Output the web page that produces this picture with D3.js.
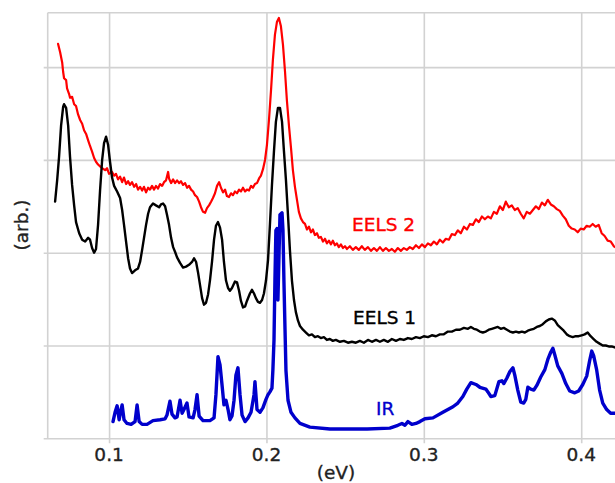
<!DOCTYPE html>
<html>
<head>
<meta charset="utf-8">
<script src="https://cdn.jsdelivr.net/npm/d3@7"></script>
<style>
  html, body { margin: 0; padding: 0; background: #fff; }
  svg { display: block; }
  text { font-family: "DejaVu Sans", Verdana, sans-serif; }
</style>
</head>
<body>
<svg id="chart" width="615" height="483"></svg>
<script>
// ---- Data (energy in eV, intensity in arbitrary units, offset traces) ----
const xTicks = [0.1, 0.2, 0.3, 0.4];
const xTickLabels = ["0.1", "0.2", "0.3", "0.4"];
const yGrid = [0, 1, 2, 3, 4];
const seriesNames = ["EELS 2", "EELS 1", "IR"];

const eels2X = [0.0676,0.0689,0.0702,0.0708,0.0714,0.0727,0.0733,0.0746,0.0752,0.0765,0.0778,0.0790,0.0803,0.0816,0.0829,0.0841,0.0854,0.0867,0.0879,0.0892,0.0905,0.0917,0.0930,0.0943,0.0956,0.0975,0.0987,0.1000,0.1019,0.1032,0.1044,0.1057,0.1070,0.1083,0.1095,0.1108,0.1121,0.1133,0.1146,0.1159,0.1172,0.1184,0.1197,0.1210,0.1222,0.1235,0.1248,0.1260,0.1273,0.1286,0.1298,0.1311,0.1324,0.1337,0.1349,0.1362,0.1375,0.1381,0.1394,0.1407,0.1419,0.1432,0.1445,0.1457,0.1470,0.1483,0.1496,0.1508,0.1521,0.1534,0.1546,0.1559,0.1572,0.1584,0.1597,0.1610,0.1622,0.1635,0.1648,0.1660,0.1673,0.1686,0.1699,0.1711,0.1724,0.1737,0.1749,0.1762,0.1775,0.1787,0.1800,0.1813,0.1826,0.1838,0.1851,0.1864,0.1876,0.1889,0.1902,0.1914,0.1927,0.1940,0.1953,0.1965,0.1978,0.1991,0.2003,0.2016,0.2029,0.2041,0.2054,0.2067,0.2079,0.2092,0.2105,0.2118,0.2130,0.2143,0.2156,0.2168,0.2181,0.2194,0.2206,0.2219,0.2232,0.2245,0.2257,0.2270,0.2283,0.2295,0.2308,0.2321,0.2333,0.2346,0.2359,0.2372,0.2384,0.2397,0.2410,0.2422,0.2435,0.2448,0.2460,0.2473,0.2486,0.2499,0.2511,0.2530,0.2549,0.2568,0.2587,0.2606,0.2625,0.2645,0.2664,0.2683,0.2702,0.2721,0.2740,0.2759,0.2778,0.2797,0.2816,0.2835,0.2854,0.2873,0.2892,0.2911,0.2930,0.2950,0.2969,0.2988,0.3007,0.3026,0.3045,0.3064,0.3083,0.3102,0.3121,0.3140,0.3159,0.3178,0.3197,0.3216,0.3235,0.3255,0.3274,0.3293,0.3312,0.3331,0.3350,0.3369,0.3388,0.3407,0.3426,0.3445,0.3464,0.3483,0.3502,0.3521,0.3540,0.3559,0.3578,0.3597,0.3616,0.3635,0.3654,0.3674,0.3693,0.3712,0.3731,0.3750,0.3769,0.3788,0.3807,0.3826,0.3845,0.3864,0.3883,0.3902,0.3921,0.3940,0.3959,0.3978,0.3997,0.4016,0.4035,0.4054,0.4073,0.4092,0.4111,0.4130,0.4149,0.4168,0.4188,0.4207,0.4226];
const eels2Y = [4.25,4.16,4.05,3.95,3.88,3.86,3.77,3.71,3.67,3.68,3.60,3.58,3.49,3.43,3.39,3.32,3.28,3.21,3.15,3.09,3.02,2.98,2.95,2.93,2.91,2.89,2.91,2.85,2.87,2.83,2.85,2.79,2.82,2.76,2.81,2.74,2.77,2.73,2.76,2.71,2.74,2.68,2.71,2.67,2.71,2.65,2.70,2.68,2.72,2.68,2.72,2.69,2.74,2.72,2.76,2.78,2.87,2.80,2.75,2.79,2.75,2.78,2.75,2.77,2.73,2.75,2.70,2.72,2.68,2.66,2.62,2.60,2.55,2.49,2.44,2.43,2.48,2.51,2.55,2.59,2.64,2.72,2.76,2.70,2.65,2.68,2.61,2.60,2.64,2.62,2.66,2.64,2.68,2.66,2.70,2.66,2.68,2.67,2.72,2.70,2.74,2.75,2.80,2.83,2.90,3.00,3.16,3.43,3.75,4.08,4.35,4.49,4.53,4.44,4.24,3.95,3.64,3.37,3.13,2.89,2.71,2.57,2.44,2.37,2.33,2.31,2.25,2.28,2.22,2.25,2.19,2.21,2.16,2.17,2.12,2.15,2.10,2.13,2.09,2.13,2.08,2.10,2.06,2.09,2.05,2.07,2.04,2.07,2.03,2.06,2.03,2.07,2.03,2.06,2.02,2.05,2.02,2.06,2.02,2.05,2.02,2.04,2.01,2.05,2.02,2.05,2.03,2.06,2.04,2.08,2.05,2.09,2.06,2.10,2.08,2.12,2.09,2.14,2.11,2.15,2.14,2.20,2.19,2.24,2.21,2.28,2.25,2.31,2.30,2.36,2.33,2.39,2.36,2.39,2.37,2.44,2.42,2.50,2.46,2.55,2.49,2.51,2.46,2.48,2.42,2.37,2.44,2.42,2.46,2.50,2.47,2.54,2.51,2.57,2.52,2.50,2.47,2.45,2.40,2.36,2.29,2.26,2.25,2.22,2.26,2.25,2.29,2.28,2.31,2.28,2.30,2.21,2.18,2.13,2.12,2.07,2.05];

const eels1X = [0.0657,0.0670,0.0682,0.0695,0.0708,0.0714,0.0727,0.0740,0.0752,0.0765,0.0778,0.0790,0.0810,0.0829,0.0848,0.0867,0.0879,0.0892,0.0905,0.0917,0.0930,0.0943,0.0956,0.0968,0.0981,0.0994,0.1006,0.1019,0.1032,0.1051,0.1070,0.1083,0.1095,0.1108,0.1121,0.1133,0.1146,0.1165,0.1184,0.1197,0.1210,0.1222,0.1235,0.1248,0.1260,0.1279,0.1298,0.1318,0.1330,0.1343,0.1356,0.1368,0.1381,0.1394,0.1407,0.1419,0.1432,0.1451,0.1470,0.1489,0.1508,0.1527,0.1540,0.1553,0.1565,0.1578,0.1591,0.1603,0.1616,0.1629,0.1641,0.1654,0.1667,0.1679,0.1692,0.1705,0.1718,0.1730,0.1743,0.1756,0.1768,0.1781,0.1800,0.1813,0.1826,0.1838,0.1851,0.1864,0.1876,0.1895,0.1908,0.1921,0.1933,0.1946,0.1959,0.1972,0.1984,0.1997,0.2010,0.2022,0.2035,0.2048,0.2060,0.2073,0.2086,0.2099,0.2111,0.2124,0.2137,0.2149,0.2162,0.2175,0.2187,0.2200,0.2213,0.2232,0.2251,0.2270,0.2289,0.2308,0.2327,0.2346,0.2365,0.2384,0.2403,0.2422,0.2441,0.2467,0.2492,0.2518,0.2543,0.2568,0.2594,0.2619,0.2645,0.2670,0.2696,0.2721,0.2746,0.2772,0.2797,0.2823,0.2848,0.2873,0.2899,0.2924,0.2950,0.2975,0.3000,0.3026,0.3051,0.3077,0.3102,0.3127,0.3153,0.3178,0.3204,0.3229,0.3255,0.3280,0.3299,0.3318,0.3337,0.3356,0.3375,0.3394,0.3413,0.3432,0.3451,0.3470,0.3489,0.3508,0.3528,0.3547,0.3566,0.3585,0.3604,0.3623,0.3642,0.3661,0.3680,0.3699,0.3718,0.3737,0.3756,0.3775,0.3794,0.3813,0.3832,0.3851,0.3870,0.3889,0.3908,0.3927,0.3946,0.3965,0.3984,0.4003,0.4022,0.4041,0.4060,0.4079,0.4098,0.4117,0.4137,0.4156,0.4175,0.4194,0.4213,0.4232];
const eels1Y = [2.55,2.78,3.03,3.37,3.57,3.60,3.56,3.37,3.03,2.73,2.51,2.33,2.21,2.14,2.12,2.16,2.14,2.05,2.00,2.04,2.30,2.68,3.00,3.18,3.25,3.16,2.98,2.81,2.72,2.66,2.59,2.46,2.30,2.12,1.94,1.83,1.78,1.81,1.83,1.90,2.03,2.16,2.30,2.42,2.49,2.53,2.51,2.49,2.52,2.53,2.50,2.41,2.30,2.16,2.06,2.01,1.95,1.89,1.84,1.85,1.87,1.90,1.94,1.90,1.79,1.65,1.51,1.44,1.46,1.55,1.70,1.90,2.14,2.29,2.33,2.27,2.14,1.90,1.70,1.62,1.59,1.62,1.69,1.68,1.59,1.48,1.41,1.42,1.48,1.56,1.60,1.56,1.51,1.47,1.46,1.49,1.56,1.70,1.92,2.30,2.73,3.10,3.41,3.56,3.56,3.41,3.10,2.78,2.40,2.03,1.70,1.49,1.36,1.27,1.21,1.17,1.14,1.11,1.12,1.09,1.10,1.08,1.09,1.06,1.07,1.05,1.06,1.04,1.05,1.03,1.04,1.03,1.05,1.03,1.06,1.04,1.06,1.04,1.06,1.04,1.07,1.05,1.07,1.06,1.08,1.07,1.09,1.08,1.10,1.09,1.11,1.10,1.12,1.12,1.15,1.15,1.17,1.17,1.19,1.18,1.20,1.18,1.17,1.15,1.14,1.15,1.17,1.18,1.19,1.20,1.18,1.19,1.17,1.15,1.14,1.15,1.14,1.15,1.14,1.16,1.17,1.18,1.20,1.21,1.23,1.26,1.28,1.29,1.27,1.22,1.19,1.16,1.12,1.10,1.09,1.10,1.10,1.11,1.12,1.14,1.10,1.07,1.04,1.02,1.00,1.00,0.99,0.99,0.98,0.97];

const irX = [0.1025,0.1038,0.1051,0.1064,0.1076,0.1083,0.1095,0.1114,0.1140,0.1165,0.1178,0.1191,0.1210,0.1241,0.1279,0.1324,0.1356,0.1368,0.1387,0.1400,0.1419,0.1432,0.1451,0.1464,0.1476,0.1495,0.1508,0.1534,0.1546,0.1559,0.1572,0.1597,0.1641,0.1667,0.1679,0.1692,0.1705,0.1718,0.1730,0.1743,0.1756,0.1768,0.1781,0.1794,0.1806,0.1819,0.1832,0.1845,0.1864,0.1883,0.1902,0.1921,0.1927,0.1940,0.1959,0.1978,0.1997,0.2010,0.2022,0.2035,0.2041,0.2048,0.2054,0.2060,0.2067,0.2073,0.2079,0.2086,0.2099,0.2105,0.2111,0.2118,0.2124,0.2137,0.2156,0.2181,0.2213,0.2276,0.2403,0.2640,0.2784,0.2835,0.2861,0.2880,0.2899,0.2924,0.2950,0.2975,0.3007,0.3058,0.3121,0.3185,0.3216,0.3248,0.3273,0.3299,0.3331,0.3356,0.3394,0.3407,0.3426,0.3451,0.3477,0.3496,0.3508,0.3528,0.3547,0.3566,0.3578,0.3597,0.3616,0.3635,0.3648,0.3661,0.3680,0.3699,0.3718,0.3743,0.3769,0.3788,0.3807,0.3820,0.3832,0.3851,0.3877,0.3902,0.3927,0.3959,0.3984,0.4010,0.4035,0.4054,0.4067,0.4079,0.4098,0.4117,0.4137,0.4162,0.4187,0.4213,0.4238];
const irY = [0.18,0.28,0.35,0.20,0.31,0.36,0.20,0.16,0.15,0.18,0.36,0.18,0.15,0.15,0.19,0.20,0.21,0.25,0.40,0.26,0.22,0.23,0.41,0.27,0.31,0.38,0.23,0.22,0.31,0.47,0.24,0.19,0.19,0.22,0.47,0.88,0.79,0.57,0.36,0.41,0.31,0.20,0.24,0.41,0.68,0.76,0.47,0.25,0.18,0.22,0.28,0.47,0.61,0.31,0.28,0.33,0.42,0.47,0.50,0.54,0.74,1.06,1.71,2.24,2.26,1.49,1.92,2.41,2.43,2.24,1.70,1.17,0.73,0.41,0.28,0.22,0.16,0.12,0.10,0.10,0.11,0.14,0.16,0.14,0.18,0.15,0.16,0.18,0.21,0.22,0.28,0.34,0.38,0.45,0.53,0.60,0.58,0.55,0.53,0.50,0.45,0.46,0.61,0.62,0.59,0.65,0.72,0.76,0.68,0.52,0.39,0.38,0.42,0.55,0.53,0.52,0.57,0.66,0.74,0.85,0.93,0.97,0.90,0.78,0.70,0.59,0.51,0.49,0.51,0.58,0.67,0.84,0.94,0.89,0.74,0.52,0.38,0.31,0.27,0.27,0.27];

// label anchor positions in data space
const labelX = [0.2544, 0.2550, 0.2696];
const labelY = [2.23, 1.23, 0.25];

// ---- Drawing ----
const svg = d3.select("#chart");
const W = 615;
const plotLeft = 47.7, plotTop = 12.7, plotBottom = 438.3;

const x = d3.scaleLinear().domain([0.061, 0.4]).range([plotLeft, 581.2]);
const y = d3.scaleLinear().domain([0, 4]).range([plotBottom, 67.1]);

const gridColor = "#d2d2d2";

// horizontal grid lines (with small tick stubs on the left)
const hg = d3.axisLeft(y).tickValues(yGrid).tickSize(-(W - plotLeft + 4)).tickFormat("");
const hgG = svg.append("g").attr("transform", `translate(${plotLeft - 4},0)`).call(hg);
hgG.select(".domain").remove();
hgG.selectAll(".tick line").attr("stroke", gridColor).attr("stroke-width", 1.6);

// vertical grid lines + ticks
const vg = d3.axisBottom(x).tickValues(xTicks).tickSize(-(plotBottom - plotTop + 5)).tickFormat("");
const vgG = svg.append("g").attr("transform", `translate(0,${plotBottom + 5})`).call(vg);
vgG.select(".domain").remove();
vgG.selectAll(".tick line").attr("stroke", gridColor).attr("stroke-width", 1.6);

// plot frame (left and top)
svg.append("line").attr("x1", plotLeft).attr("x2", plotLeft).attr("y1", plotTop).attr("y2", plotBottom)
  .attr("stroke", gridColor).attr("stroke-width", 1.6);
svg.append("line").attr("x1", plotLeft).attr("x2", W).attr("y1", plotTop).attr("y2", plotTop)
  .attr("stroke", gridColor).attr("stroke-width", 1.6);

// tick labels
svg.append("g").selectAll("text").data(xTicks).join("text")
  .attr("x", d => x(d)).attr("y", 461)
  .attr("text-anchor", "middle").attr("font-size", 18.5).attr("fill", "#222")
  .attr("stroke", "#222").attr("stroke-width", 0.35)
  .text((d, i) => xTickLabels[i]);

// axis titles
svg.append("text").attr("x", 336).attr("y", 479).attr("text-anchor", "middle")
  .attr("font-size", 18.5).attr("fill", "#222").attr("stroke", "#222").attr("stroke-width", 0.35)
  .text("(eV)");
svg.append("text").attr("transform", "translate(28,225) rotate(-90)")
  .attr("text-anchor", "middle").attr("font-size", 18.5).attr("fill", "#222")
  .attr("stroke", "#222").attr("stroke-width", 0.35).text("(arb.)");

// traces
const line = d3.line().x(d => x(d[0])).y(d => y(d[1]));
const traces = [
  { xs: eels2X, ys: eels2Y, color: "#ff0000", w: 2.2 },
  { xs: eels1X, ys: eels1Y, color: "#000000", w: 2.4 },
  { xs: irX, ys: irY, color: "#0000cc", w: 3.4 }
];
traces.forEach(t => {
  const pts = t.xs.map((v, i) => [v, t.ys[i]]);
  svg.append("path").datum(pts).attr("d", line)
    .attr("fill", "none").attr("stroke", t.color).attr("stroke-width", t.w)
    .attr("stroke-linejoin", "round").attr("stroke-linecap", "round");
});

// series labels
const labelColors = ["#ff0000", "#000000", "#0000cc"];
seriesNames.forEach((name, i) => {
  svg.append("text").attr("x", x(labelX[i])).attr("y", y(labelY[i]))
    .attr("font-size", 18.5).attr("fill", labelColors[i])
    .attr("stroke", labelColors[i]).attr("stroke-width", 0.35).text(name);
});
</script>
</body>
</html>
